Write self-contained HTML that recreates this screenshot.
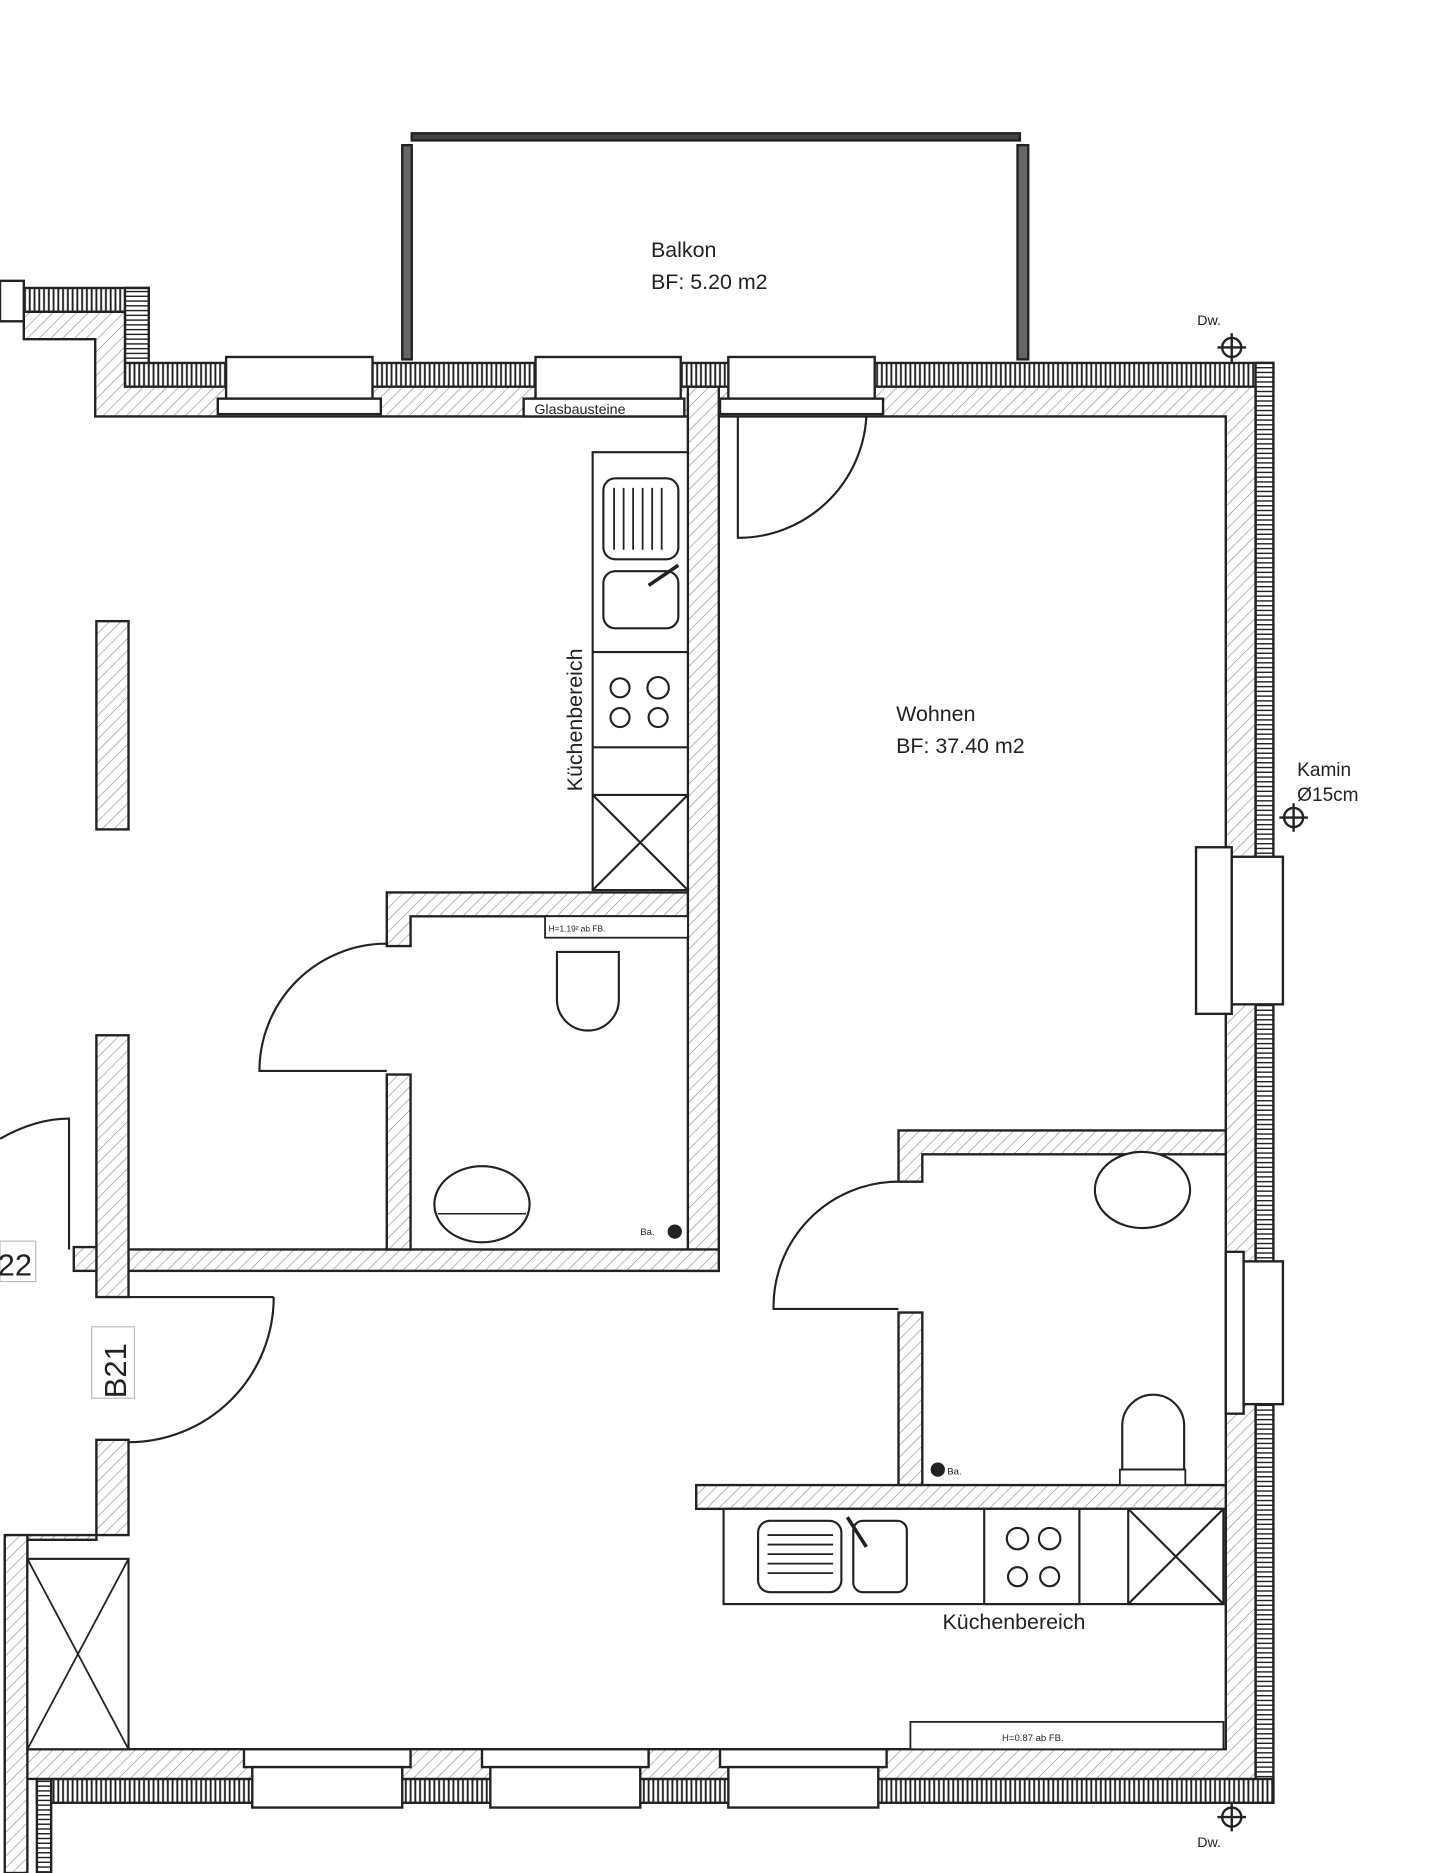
<!DOCTYPE html>
<html><head><meta charset="utf-8"><style>html,body{margin:0;padding:0;background:#fff}svg{display:block}text{font-family:"Liberation Sans",sans-serif;fill:#222}</style></head>
<body>
<svg width="1440" height="1873" viewBox="0 0 1210 1574" preserveAspectRatio="none" xmlns="http://www.w3.org/2000/svg">
<defs>
<pattern id="h" width="7" height="7" patternUnits="userSpaceOnUse" patternTransform="rotate(45)"><rect width="7" height="7" fill="#fff"/><line x1="0" y1="0" x2="0" y2="7" stroke="#888" stroke-width="1"/></pattern>
<pattern id="iv" width="4" height="4" patternUnits="userSpaceOnUse"><rect width="4" height="4" fill="#fff"/><line x1="1" y1="0" x2="1" y2="4" stroke="#222" stroke-width="1.6"/></pattern>
<pattern id="ih" width="4" height="4" patternUnits="userSpaceOnUse"><rect width="4" height="4" fill="#fff"/><line x1="0" y1="1" x2="4" y2="1" stroke="#222" stroke-width="1.2"/></pattern>
<g id="cross"><circle r="8" fill="none" stroke="#222" stroke-width="2"/><line x1="-12" y1="0" x2="12" y2="0" stroke="#222" stroke-width="2"/><line x1="0" y1="-12" x2="0" y2="12" stroke="#222" stroke-width="2"/></g>
</defs>
<g stroke="#222" stroke-width="2">
<!-- balcony -->
<rect x="346" y="112" width="511" height="6" fill="#444"/>
<rect x="338" y="122" width="8" height="180" fill="#666"/>
<rect x="855" y="122" width="9" height="180" fill="#666"/>
<!-- insulation bands -->
<rect x="20" y="242" width="105" height="20" fill="url(#iv)"/>
<rect x="105" y="242" width="20" height="83" fill="url(#ih)"/>
<rect x="105" y="305" width="965" height="20" fill="url(#iv)"/>
<rect x="1055" y="305" width="15" height="1210" fill="url(#ih)"/>
<rect x="31" y="1495" width="1039" height="20" fill="url(#iv)"/>
<rect x="31" y="1495" width="12" height="79" fill="url(#ih)"/>
<!-- hatched walls -->
<path d="M20 262 H105 V325 H1055 V1495 H4 V1294 H81 V1210 H108 V1290 H23 V1470 H1030 V350 H80 V285 H20 Z" fill="url(#h)"/>
<rect x="578" y="325" width="26" height="743" fill="url(#h)"/>
<rect x="81" y="1050" width="523" height="18" fill="url(#h)"/>
<rect x="81" y="870" width="27" height="220" fill="url(#h)"/>
<rect x="81" y="522" width="27" height="175" fill="url(#h)"/>
<rect x="62" y="1048" width="19" height="20" fill="url(#h)"/>
<path d="M325 750 H578 V770 H345 V795 H325 Z" fill="url(#h)"/>
<rect x="325" y="903" width="20" height="147" fill="url(#h)"/>
<path d="M755 950 H1030 V970 H775 V993 H755 Z" fill="url(#h)"/>
<rect x="755" y="1103" width="20" height="145" fill="url(#h)"/>
<rect x="585" y="1248" width="445" height="20" fill="url(#h)"/>
<rect x="4" y="1290" width="19" height="284" fill="url(#h)"/>
<!-- windows -->
<rect x="0" y="236" width="20" height="34" fill="#fff"/>
<g fill="#fff">
<rect x="190" y="300" width="123" height="35"/><rect x="183" y="335" width="137" height="13"/>
<rect x="450" y="300" width="122" height="35"/><rect x="440" y="335" width="135" height="15"/>
<rect x="612" y="300" width="123" height="35"/><rect x="605" y="335" width="137" height="13"/>
<rect x="1005" y="712" width="30" height="140"/><rect x="1035" y="720" width="43" height="124"/>
<rect x="1030" y="1052" width="15" height="136"/><rect x="1045" y="1060" width="33" height="120"/>
<rect x="205" y="1470" width="140" height="15"/><rect x="212" y="1485" width="126" height="34"/>
<rect x="405" y="1470" width="140" height="15"/><rect x="412" y="1485" width="126" height="34"/>
<rect x="605" y="1470" width="140" height="15"/><rect x="612" y="1485" width="126" height="34"/>
</g>
<!-- doors -->
<g fill="none" stroke-width="1.8">
<path d="M620 350 V452 A108 108 0 0 0 728 350"/>
<path d="M325 793 A107 107 0 0 0 218 900 H325"/>
<path d="M230 1090 A122 122 0 0 1 108 1212 M108 1090 H230"/>
<path d="M0 957 Q30 940 58 940 V1050"/>
<path d="M755 993 A105 105 0 0 0 650 1100 H755"/>
</g>
<!-- kitchen left -->
<g fill="#fff" stroke-width="1.8">
<rect x="498" y="380" width="80" height="368"/>
<rect x="507" y="402" width="63" height="68" rx="10"/>
<rect x="507" y="480" width="63" height="48" rx="10"/>
<line x1="498" y1="548" x2="578" y2="548"/><line x1="498" y1="628" x2="578" y2="628"/><line x1="498" y1="668" x2="578" y2="668"/>
<path d="M498 668 L578 748 M578 668 L498 748" fill="none"/>
<circle cx="521" cy="578" r="8"/><circle cx="553" cy="578" r="9"/><circle cx="521" cy="603" r="8"/><circle cx="553" cy="603" r="8"/>
</g>
<g stroke-width="1.5"><line x1="516" y1="410" x2="516" y2="462"/><line x1="524" y1="410" x2="524" y2="462"/><line x1="532" y1="410" x2="532" y2="462"/><line x1="540" y1="410" x2="540" y2="462"/><line x1="548" y1="410" x2="548" y2="462"/><line x1="556" y1="410" x2="556" y2="462"/><line x1="545" y1="492" x2="570" y2="475" stroke-width="3"/></g>
<!-- bath left -->
<rect x="458" y="770" width="120" height="18" fill="#fff" stroke-width="1.5"/>
<path d="M468 800 H520 V840 A26 26 0 0 1 468 840 Z" fill="#fff" stroke-width="1.8"/>
<ellipse cx="405" cy="1012" rx="40" ry="32" fill="#fff" stroke-width="1.8"/>
<line x1="368" y1="1020" x2="442" y2="1020" stroke-width="1.2"/>
<circle cx="567" cy="1035" r="5" fill="#222"/>
<!-- bath right -->
<ellipse cx="960" cy="1000" rx="40" ry="32" fill="#fff" stroke-width="1.8"/>
<path d="M943 1235 V1198 A26 26 0 0 1 995 1198 V1235 Z" fill="#fff" stroke-width="1.8"/>
<rect x="941" y="1235" width="55" height="13" fill="#fff" stroke-width="1.5"/>
<circle cx="788" cy="1235" r="5" fill="#222"/>
<!-- kitchen bottom -->
<g fill="#fff" stroke-width="1.8">
<rect x="608" y="1268" width="420" height="80"/>
<rect x="637" y="1278" width="70" height="60" rx="10"/>
<rect x="717" y="1278" width="45" height="60" rx="8"/>
<rect x="827" y="1268" width="80" height="80"/>
<rect x="948" y="1268" width="80" height="80"/>
<path d="M948 1268 L1028 1348 M1028 1268 L948 1348" fill="none"/>
<circle cx="855" cy="1293" r="9"/><circle cx="882" cy="1293" r="9"/><circle cx="855" cy="1325" r="8"/><circle cx="882" cy="1325" r="8"/>
</g>
<g stroke-width="1.5"><line x1="645" y1="1290" x2="700" y2="1290"/><line x1="645" y1="1298" x2="700" y2="1298"/><line x1="645" y1="1306" x2="700" y2="1306"/><line x1="645" y1="1314" x2="700" y2="1314"/><line x1="645" y1="1322" x2="700" y2="1322"/><line x1="712" y1="1275" x2="728" y2="1300" stroke-width="3"/></g>
<!-- left cabinet -->
<rect x="23" y="1310" width="85" height="160" fill="#fff" stroke-width="1.8"/>
<path d="M23 1310 L108 1470 M108 1310 L23 1470" fill="none" stroke-width="1.5"/>
<rect x="765" y="1447" width="263" height="23" fill="#fff" stroke-width="1.5"/>
<!-- labels boxes -->
<rect x="0" y="1043" width="30" height="34" fill="#fff" stroke="#bbb" stroke-width="1"/>
<rect x="77" y="1115" width="36" height="60" fill="#fff" stroke="#bbb" stroke-width="1"/>
</g>
<use href="#cross" x="1035" y="292"/>
<use href="#cross" x="1087" y="687"/>
<use href="#cross" x="1035" y="1527"/>
<text x="547" y="216" font-size="18">Balkon</text>
<text x="547" y="243" font-size="18">BF: 5.20 m2</text>
<text x="753" y="606" font-size="18">Wohnen</text>
<text x="753" y="633" font-size="18">BF: 37.40 m2</text>
<text x="1090" y="652" font-size="16">Kamin</text>
<text x="1090" y="673" font-size="16">Ø15cm</text>
<text x="1006" y="273" font-size="12">Dw.</text>
<text x="1006" y="1552" font-size="12">Dw.</text>
<text x="449" y="348" font-size="12">Glasbausteine</text>
<text x="461" y="783" font-size="7">H=1.19² ab FB.</text>
<text x="842" y="1463" font-size="8">H=0.87 ab FB.</text>
<text x="538" y="1038" font-size="8">Ba.</text>
<text x="796" y="1239" font-size="8">Ba.</text>
<text x="792" y="1369" font-size="18">Küchenbereich</text>
<text transform="translate(489,665) rotate(-90)" font-size="18">Küchenbereich</text>
<text x="-2" y="1072" font-size="26">22</text>
<text transform="translate(106,1175) rotate(-90)" font-size="26">B21</text>
</svg>
</body></html>
